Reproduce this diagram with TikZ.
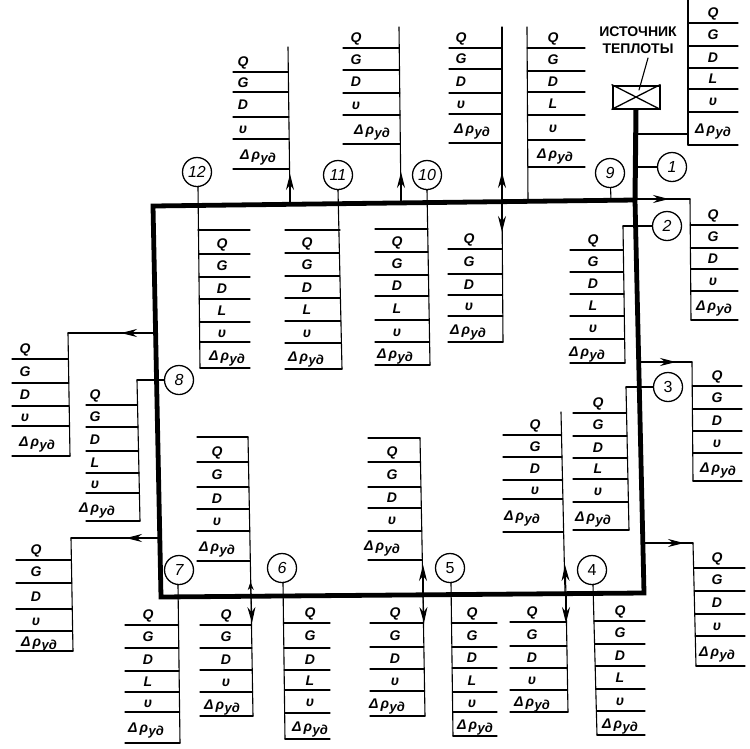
\documentclass[tikz,border=0pt]{standalone}
\usepackage{fontspec}
\setmainfont{Liberation Sans}
\usetikzlibrary{arrows.meta}
\tikzset{
  thinln/.style={line width=1.1pt,line cap=round},
  pipeln/.style={line width=4.8pt,line join=miter},
  flowarrow/.style={thinln,-{Stealth[length=16pt,width=8pt]}},
  lbl/.style={inner sep=0pt,anchor=base,font=\fontsize{14}{14}\selectfont\bfseries\itshape},
  numc/.style={circle,draw,line width=1.3pt,minimum size=29pt,inner sep=0pt,fill=white,font=\fontsize{16}{16}\selectfont},
  srcbox/.style={draw,line width=2pt,minimum width=47pt,minimum height=23pt,inner sep=0pt},
  srctxt/.style={inner sep=0pt,align=center,font=\fontsize{14}{17}\selectfont\bfseries}
}
\newcommand{\dpud}{Δ\,ρ\kern0.5pt\raisebox{-3pt}{\fontsize{13}{13}\selectfont уд}}
% #1 id, #2 free x of rules, #3,#4 spine top, #5,#6 spine bottom, #7 letter x, #8 delta x, #9 rule ys
\newcommand{\tbl}[9]{%
  \coordinate (#1-t) at (#3,#4);
  \coordinate (#1-b) at (#5,#6);
  \draw[thinln] (#1-t) -- (#1-b);
  \pgfmathtruncatemacro\rown{dim({#9})}
  \foreach \y [count=\i, remember=\y as \p (initially 0)] in {#9} {
    \pgfmathsetmacro\sx{#3+(\y-#4)/(#6-#4)*(#5-#3)}
    \draw[thinln] (#2,\y) -- (\sx,\y);
    \ifnum\i=1 \pgfmathsetmacro\mid{\y-11+5}\else \pgfmathsetmacro\mid{(\p+\y)/2+5}\fi
    \ifnum\i=\rown
      \node[lbl] (#1-l\i) at (#8,\mid) {\dpud};
    \else
      \node[lbl] (#1-l\i) at (#7,\mid) {\ifnum\rown=5 \ifcase\i\or Q\or G\or D\or υ\fi\else \ifcase\i\or Q\or G\or D\or L\or υ\fi\fi};
    \fi
  }
}
\begin{document}
\begin{tikzpicture}[x=1pt,y=-1pt]
\useasboundingbox (0,0) rectangle (750,748);
% source and main pipe
\node[srcbox] (src) at (636,97) {};
\draw[line width=1.3pt] (src.north west) -- (src.south east) (src.south west) -- (src.north east);
\node[srctxt] (srclabel) at (638,40) {ИСТОЧНИК\\ТЕПЛОТЫ};
\coordinate (lead) at (639,90);
\draw[thinln] (648,58) -- (lead);
\coordinate (pNW) at (153,206);
\coordinate (pNE) at (635,200);
\coordinate (pSE) at (644,593);
\coordinate (pSW) at (161,597);
\draw[pipeln] (pNW) -- (pNE) -- (pSE) -- (pSW) -- cycle;
\draw[line width=5pt] (src.south) -- (pNE);
% numbered circles
\node[numc] (n1) at (672,167) {\itshape 1};
\node[numc] (n2) at (667,226) {\itshape 2};
\node[numc] (n3) at (668,387) {3};
\node[numc] (n4) at (592,570) {4};
\node[numc] (n5) at (450,568) {5};
\node[numc] (n6) at (282,568) {\itshape 6};
\node[numc] (n7) at (179,570) {\itshape 7};
\node[numc] (n8) at (179,380) {\itshape 8};
\node[numc] (n9) at (610,173) {\itshape 9};
\node[numc] (n10) at (427,175) {\itshape 10};
\node[numc] (n11) at (338,175) {\itshape 11};
\node[numc] (n12) at (197,172) {\itshape 12};
\coordinate (j1) at (636,167);
\coordinate (j9) at (611,200);
\draw[thinln] (n1) -- (j1);
\draw[thinln] (n9) -- (j9);
% top, outer
\tbl{a}{233}{288}{47}{290}{205}{243}{258}{72,92,117,139,169}
\tbl{b}{343}{399}{27}{401}{203}{356}{372}{48,70,93,115,144}
\tbl{c}{449}{502}{27}{502}{203}{461}{472}{48,69,93,114,143}
\tbl{d}{448}{502}{203}{503}{342}{469}{468}{249,274,295,316,342}
\tbl{e}{585}{527}{27}{528}{202}{553}{555}{48,71,92,115,140,167}
\tbl{f}{738}{688}{0}{688}{145}{713}{713}{23,46,68,89,112,145}
\coordinate (j6) at (636,134);
\draw[thinln] (j6) -- (688,134);
% right side
\coordinate (j7) at (635,199);
\tbl{g}{738}{690}{199}{691}{320}{713}{714}{225,248,269,291,320}
\draw[thinln] (j7) -- (g-t);
\draw[flowarrow] (j7) -- (669,199);
\tbl{h}{570}{623}{226}{625}{363}{593}{587}{250,272,294,316,339,363}
\draw[thinln] (n2) -- (h-t);
\coordinate (j9r) at (640,362);
\tbl{i}{742}{692}{362}{693}{481}{717}{718}{386,409,431,453,481}
\draw[thinln] (j9r) -- (i-t);
\draw[flowarrow] (j9r) -- (676,362);
\tbl{j}{573}{626}{387}{629}{530}{598}{593}{413,436,458,479,502,530}
\draw[thinln] (n3) -- (j-t);
\coordinate (j14) at (644,543);
\tbl{n}{745}{693}{543}{696}{666}{717}{717}{568,591,614,636,666}
\draw[thinln] (j14) -- (n-t);
\draw[flowarrow] (j14) -- (684,543);
% bottom right
\tbl{k}{503}{561}{412}{565}{594}{535}{522}{435,457,480,499,532}
\tbl{l}{510}{566}{594}{568}{712}{532}{532}{622,646,668,690,712}
\tbl{m}{645}{593}{585}{597}{735}{620}{620}{621,644,666,689,711,735}
\tbl{o}{497}{451}{583}{453}{736}{472}{475}{623,647,668,692,712,736}
\draw[thinln] (n4) -- (m-t);
\draw[thinln] (n5) -- (o-t);
\tbl{p}{368}{420}{438}{423}{595}{392}{382}{462,487,508,531,560}
\tbl{q}{370}{423}{595}{425}{716}{395}{387}{623,647,669,691,716}
\draw[thinln] (368,438) -- (p-t);
\tbl{r}{330}{283}{583}{285}{739}{310}{310}{623,648,670,690,713,739}
\draw[thinln] (n6) -- (r-t);
\tbl{s}{125}{178}{585}{180}{743}{148}{146}{625,648,671,692,712,743}
\draw[thinln] (n7) -- (s-t);
\tbl{t}{200}{251}{596}{253}{716}{226}{222}{625,648,670,692,716}
\tbl{u}{197}{248}{437}{251}{596}{217}{217}{462,487,509,531,561}
\draw[thinln] (197,437) -- (u-t);
% left side
\coordinate (j22) at (159,538);
\tbl{v}{16}{71}{538}{73}{651}{36}{39}{560,583,609,631,651}
\draw[thinln] (j22) -- (v-t);
\draw[flowarrow] (j22) -- (126,538);
\tbl{w}{86}{137}{380}{140}{521}{95}{97}{405,427,451,473,493,521}
\draw[thinln] (n8) -- (w-t);
\coordinate (j24) at (155,333);
\tbl{x}{12}{68}{333}{70}{456}{25}{37}{359,383,406,426,456}
\draw[thinln] (j24) -- (x-t);
\draw[flowarrow] (j24) -- (121,333);
% top, inner
\tbl{y}{250}{198}{187}{200}{368}{222}{227}{254,277,299,322,342,368}
\draw[thinln] (250,230) -- (198,230);
\tbl{z}{285}{338}{190}{342}{369}{307}{306}{253,276,298,321,343,369}
\draw[thinln] (285,230) -- (340,230);
\tbl{aa}{375}{427}{190}{430}{365}{397}{395}{252,275,296,320,342,365}
\draw[thinln] (375,229) -- (428,229);
\draw[thinln] (n12) -- (y-t);
\draw[thinln] (n11) -- (z-t);
\draw[thinln] (n10) -- (aa-t);
% arrowheads on the risers
\coordinate (ja) at (290,205);
\coordinate (jb) at (401,203);
\coordinate (jc) at (502,203);
\coordinate (jk) at (566,594);
\coordinate (jp) at (423,595);
\coordinate (jt) at (251,596);
\draw[flowarrow] (ja) -- (290,174);
\draw[flowarrow] (jb) -- (401,172);
\draw[flowarrow] (jc) -- (502,172);
\draw[flowarrow] (jc) -- (502,232);
\draw[flowarrow] (jk) -- (565,565);
\draw[flowarrow] (jk) -- (566,623);
\draw[flowarrow] (jp) -- (423,565);
\draw[flowarrow] (jp) -- (424,623);
\draw[flowarrow,{Stealth[length=8pt,width=6pt]}-] (250.5,582) -- (jt);
\draw[flowarrow] (jt) -- (252,623);
\end{tikzpicture}
\end{document}
